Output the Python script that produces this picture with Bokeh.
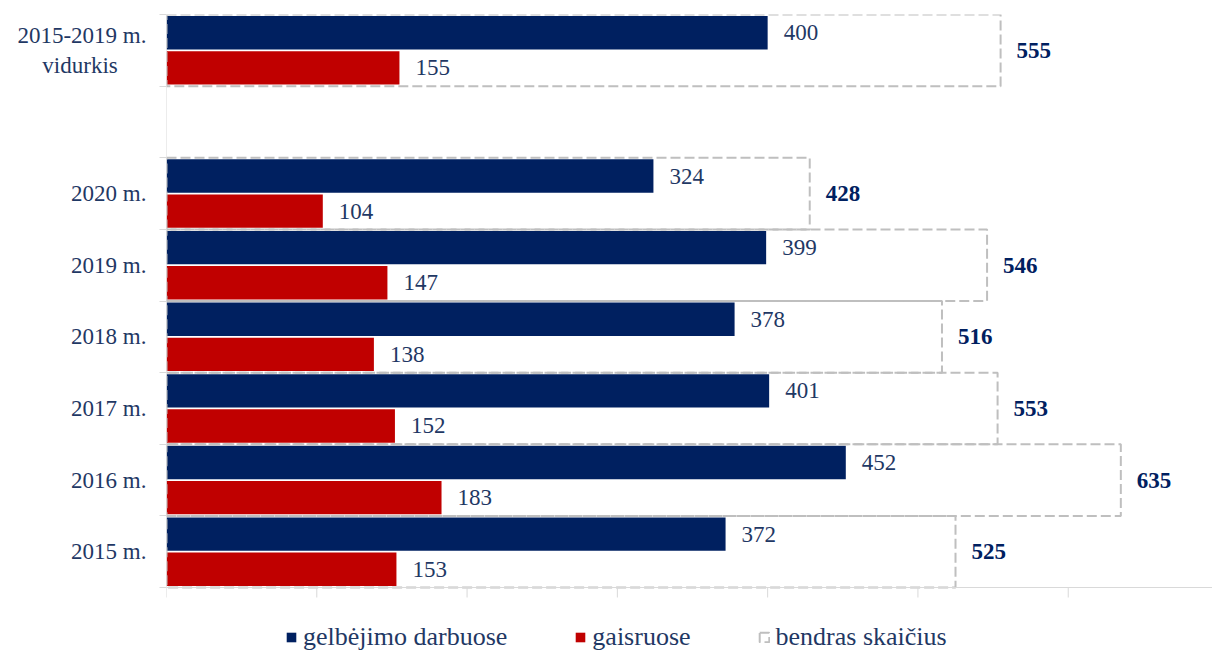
from bokeh.plotting import figure
from bokeh.models import Range1d, FixedTicker, ColumnDataSource, Legend, LegendItem, Span
from bokeh.core.properties import value
from bokeh.embed import file_html
from bokeh.resources import INLINE

# ---- data ----
categories = ["2015 m.", "2016 m.", "2017 m.", "2018 m.", "2019 m.", "2020 m.", "",
              "2015-2019 m.\nvidurkis\u00a0\u00a0\u00a0\u00a0\u00a0"]
rescue = [372, 452, 401, 378, 399, 324, None, 400]   # gelbėjimo darbuose
fires = [153, 183, 152, 138, 147, 104, None, 155]    # gaisruose
totals = [525, 635, 553, 516, 546, 428, None, 555]   # bendras skaičius
legend_labels = ["gelbėjimo darbuose", "gaisruose", "bendras skaičius"]
x_ticks = [0, 100, 200, 300, 400, 500, 600]

BLUE = "#002060"
RED = "#C00000"
TXT = "#1F3864"
AXIS = "#D9D9D9"
FONT = "Liberation Serif"
FS = "23px"

N = len(categories)
PX_PER_CAT = 71.625          # frame pixels per category slot
FRAME_H = 638
Y_BOTTOM = N - FRAME_H / PX_PER_CAT   # room under the axis for the legend
TICK = 10 / PX_PER_CAT

idx = [i for i, v in enumerate(rescue) if v is not None]
pos = [i + 0.5 for i in idx]
src = ColumnDataSource(dict(
    y=pos,
    yb=[q + 0.245 for q in pos],
    yr=[q - 0.245 for q in pos],
    rescue=[rescue[i] for i in idx],
    fires=[fires[i] for i in idx],
    total=[totals[i] for i in idx],
    rescue_s=[str(rescue[i]) for i in idx],
    fires_s=[str(fires[i]) for i in idx],
    total_s=[str(totals[i]) for i in idx],
))

p = figure(frame_width=1046, frame_height=FRAME_H, output_backend="svg", toolbar_location=None,
           x_range=Range1d(0, 696), y_range=Range1d(Y_BOTTOM, N),
           x_axis_location=None,
           min_border_left=166, min_border_top=14, min_border_right=0, min_border_bottom=0)
p.outline_line_color = None
p.xgrid.visible = False
p.ygrid.visible = False

r_blue = p.hbar(y="yb", left=0, right="rescue", height=0.465, source=src,
                fill_color=BLUE, line_color=None)
r_red = p.hbar(y="yr", left=0, right="fires", height=0.465, source=src,
               fill_color=RED, line_color=None)
r_box = p.hbar(y="y", left=0, right="total", height=1.0, source=src,
               fill_color=None, line_color="#BFBFBF", line_width=2, line_dash="10 4")

p.text(x="rescue", y="yb", text="rescue_s", source=src, x_offset=16,
       text_baseline="middle", text_font=value(FONT), text_font_size=FS, text_color=TXT)
p.text(x="fires", y="yr", text="fires_s", source=src, x_offset=16,
       text_baseline="middle", text_font=value(FONT), text_font_size=FS, text_color=TXT)
p.text(x="total", y="y", text="total_s", source=src, x_offset=16,
       text_baseline="middle", text_font=value(FONT), text_font_size=FS,
       text_font_style="bold", text_color=BLUE)

# x axis (line + ticks) drawn at value 0 of the y scale
p.add_layout(Span(location=0, dimension="width", line_color=AXIS, line_width=1))
p.segment(x0=x_ticks, y0=[0] * len(x_ticks), x1=x_ticks, y1=[-TICK] * len(x_ticks),
          line_color=AXIS, line_width=1)
# y axis line (only over the category area)
p.segment(x0=[0], y0=[0], x1=[0], y1=[N], line_color=AXIS, line_width=1)

# y axis labels and boundary ticks
ya = p.yaxis[0]
ya.ticker = FixedTicker(ticks=pos, minor_ticks=list(range(N + 1)))
ya.major_label_overrides = {i + 0.5: categories[i] for i in idx}
ya.major_tick_out = 0
ya.major_tick_in = 0
ya.minor_tick_out = 7
ya.minor_tick_in = 0
ya.minor_tick_line_color = AXIS
ya.axis_line_color = None
ya.major_label_standoff = 13
ya.major_label_text_font = FONT
ya.major_label_text_font_size = FS
ya.major_label_text_color = TXT

legend = Legend(items=[LegendItem(label=legend_labels[0], renderers=[r_blue]),
                       LegendItem(label=legend_labels[1], renderers=[r_red]),
                       LegendItem(label=legend_labels[2], renderers=[r_box])],
                orientation="horizontal", location=(119, 0),
                label_text_font=FONT, label_text_font_size="26px", label_text_color=TXT,
                glyph_width=12, glyph_height=12, spacing=67, label_standoff=6,
                border_line_color=None, background_fill_alpha=0, padding=0, margin=0)
p.add_layout(legend)

open("out.html", "w").write(file_html(p, INLINE))
